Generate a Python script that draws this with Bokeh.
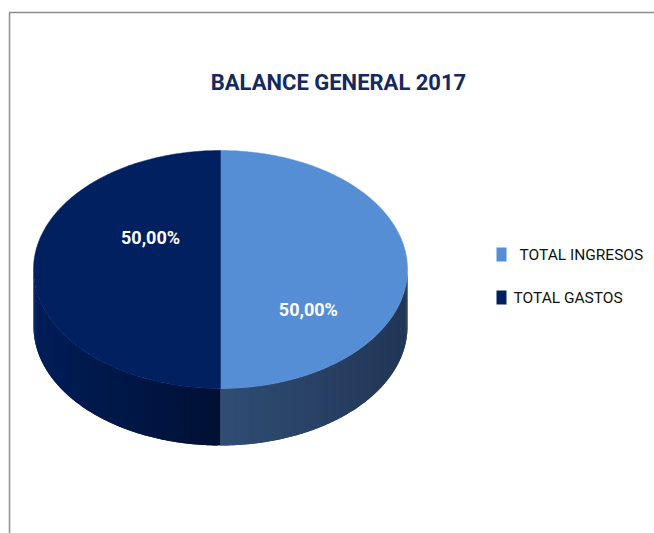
import numpy as np
from bokeh.plotting import figure
from bokeh.models import Range1d
from bokeh.embed import file_html
from bokeh.resources import INLINE
from bokeh.core.properties import value

# ---- data ----
chart_title = "BALANCE GENERAL 2017"
categories = ["TOTAL INGRESOS", "TOTAL GASTOS"]
values = [50.0, 50.0]
pct_labels = ["50,00%", "50,00%"]

# ---- style / layout ----
W, H = 654, 533
FONT = "Roboto"
top_colors = ["#558ED5", "#002060"]
wall_inner = [(48, 77, 116), (0, 16, 52)]
wall_outer = [(34, 54, 86), (0, 30, 88)]
cx, cy, rx, ry, depth = 220.0, 269.0, 187.0, 119.0, 57.0
label_off = [(0.47, 0.34), (-0.374, -0.265)]
legend_sq_x = 501
legend_text_x = [519, 513]
legend_y = [254, 297]

p = figure(width=W, height=H, x_range=Range1d(0, W), y_range=Range1d(H, 0),
           output_backend="svg", toolbar_location=None, min_border=0)
p.axis.visible = False
p.grid.visible = False
p.outline_line_color = None
p.background_fill_color = "white"
p.border_fill_color = "white"

# chart area border (gray, partially cropped)
p.line(x=[9, 9, W], y=[H, 12, 12], line_color="#8C8C8C", line_width=1.5)

total = sum(values)
angles = np.cumsum([0.0] + [v / total * 2 * np.pi for v in values])


def pt(t):
    return cx + rx * np.sin(t), cy - ry * np.cos(t)


# side walls (front visible part), gradient via overlapping thin strips
for i in range(len(values)):
    a0, a1 = angles[i], angles[i + 1]
    lo, hi = max(a0, np.pi / 2), min(a1, 3 * np.pi / 2)
    if lo >= hi:
        continue
    n = 90
    ts = np.linspace(lo, hi, n + 1)
    xs_l, ys_l, cols = [], [], []
    for k in range(n):
        t0, t1 = ts[k], ts[min(k + 2, n)]
        tm = np.linspace(t0, t1, 4)
        xa, ya = pt(tm)
        xs_l.append(list(xa) + list(xa[::-1]))
        ys_l.append(list(ya) + list((ya + depth)[::-1]))
        xm, _ = pt((ts[k] + ts[k + 1]) / 2)
        f = min(1.0, abs(xm - cx) / rx)
        c = tuple(int(round(wall_inner[i][j] + (wall_outer[i][j] - wall_inner[i][j]) * f)) for j in range(3))
        cols.append("#%02x%02x%02x" % c)
    p.patches(xs=xs_l, ys=ys_l, fill_color=cols, line_color=None)

# top faces
for i in range(len(values)):
    ts = np.linspace(angles[i], angles[i + 1], 200)
    xs, ys = pt(ts)
    p.patch(x=np.concatenate([[cx], xs]), y=np.concatenate([[cy], ys]),
            fill_color=top_colors[i], line_color=top_colors[i], line_width=0.5)

# data labels
p.text(x=[cx + fx * rx for fx, fy in label_off], y=[cy + fy * ry for fx, fy in label_off],
       text=pct_labels, text_color="white", text_font=value(FONT), text_font_style="bold",
       text_font_size="18px", text_align="center", text_baseline="middle")

# title
p.text(x=[338], y=[82], text=[chart_title], text_color="#14295F", text_font=value(FONT),
       text_font_style="bold", text_font_size="22px", text_align="center", text_baseline="middle")

# legend
p.rect(x=[legend_sq_x] * len(categories), y=legend_y, width=10, height=14,
       width_units="screen", height_units="screen", fill_color=top_colors, line_color=None)
p.text(x=legend_text_x, y=legend_y, text=categories, text_color="#111111", text_font=value(FONT),
       text_font_size="15.5px", text_align="left", text_baseline="middle")

open("out.html", "w").write(file_html(p, INLINE))
